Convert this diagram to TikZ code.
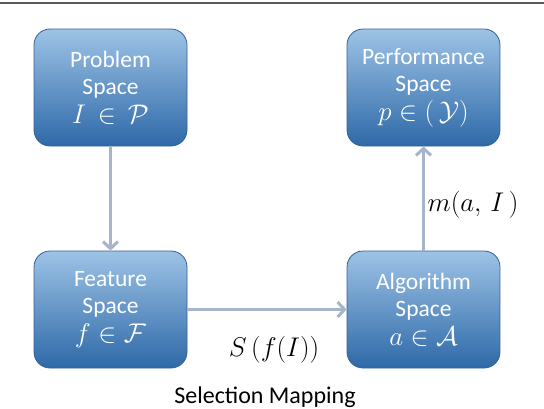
\RequirePackage{fix-cm}
\documentclass[tikz,border=0pt]{standalone}
\usepackage{amsmath, amssymb}
\usepackage{fontspec}
\setsansfont{Carlito}
\usetikzlibrary{calc, positioning, shapes, arrows.meta}

\definecolor{boxtop}{HTML}{9DC3E6}
\definecolor{boxbot}{HTML}{2E69A8}
\definecolor{boxline}{HTML}{35609A}
\definecolor{arrgray}{HTML}{A7B5CB}
\newcommand{\spacemath}[1]{{\fontsize{27}{30}\selectfont$#1$}}

\begin{document}
\begin{tikzpicture}[x=1pt, y=-1pt,
  space/.style={draw=boxline, line width=0.8pt, rounded corners=16pt,
    top color=boxtop, bottom color=boxbot, minimum width=153pt, minimum height=117pt,
    text=white, align=center, font=\sffamily\fontsize{23.5}{27}\selectfont, inner sep=0pt},
  link/.style={draw=arrgray, line width=3.5pt, -{Straight Barb[length=7pt, width=15pt, line width=3pt]}},
  tag/.style={font=\fontsize{27}{30}\selectfont}]
\useasboundingbox (0,0) rectangle (544,408);
\draw [gray!70!black, line width=1.5pt] (0,3) -- (544,3);
% the four spaces
\node[space] (prob) at (110.5,87.5) {Problem\\Space\\[2pt]\spacemath{I\,\in\,\mathcal{P}}};
\node[space] (perf) at (423.5,87.5) {Performance\\Space\\[2pt]\spacemath{p\in(\,\mathcal{Y})}};
\node[space] (feat) at (110.5,309.5) {Feature\\Space\\[2pt]\spacemath{f\in\mathcal{F}}};
\node[space] (alg) at (423.5,309.5) {Algorithm\\Space\\[2pt]\spacemath{a\in\mathcal{A}}};
% mappings
\draw [link] (prob) -- (feat);
\draw [link] (feat) -- (alg);
\draw [link] (alg) -- (perf);
\node[tag] (sel) at (274,350) {$S\,(f(I))$};
\node[tag] (met) at (473,205) {$m(a,\,I\,)$};
\node[font=\sffamily\fontsize{24}{26}\selectfont] (caption) at (265,397) {Selection Mapping};
\end{tikzpicture}
\end{document}
